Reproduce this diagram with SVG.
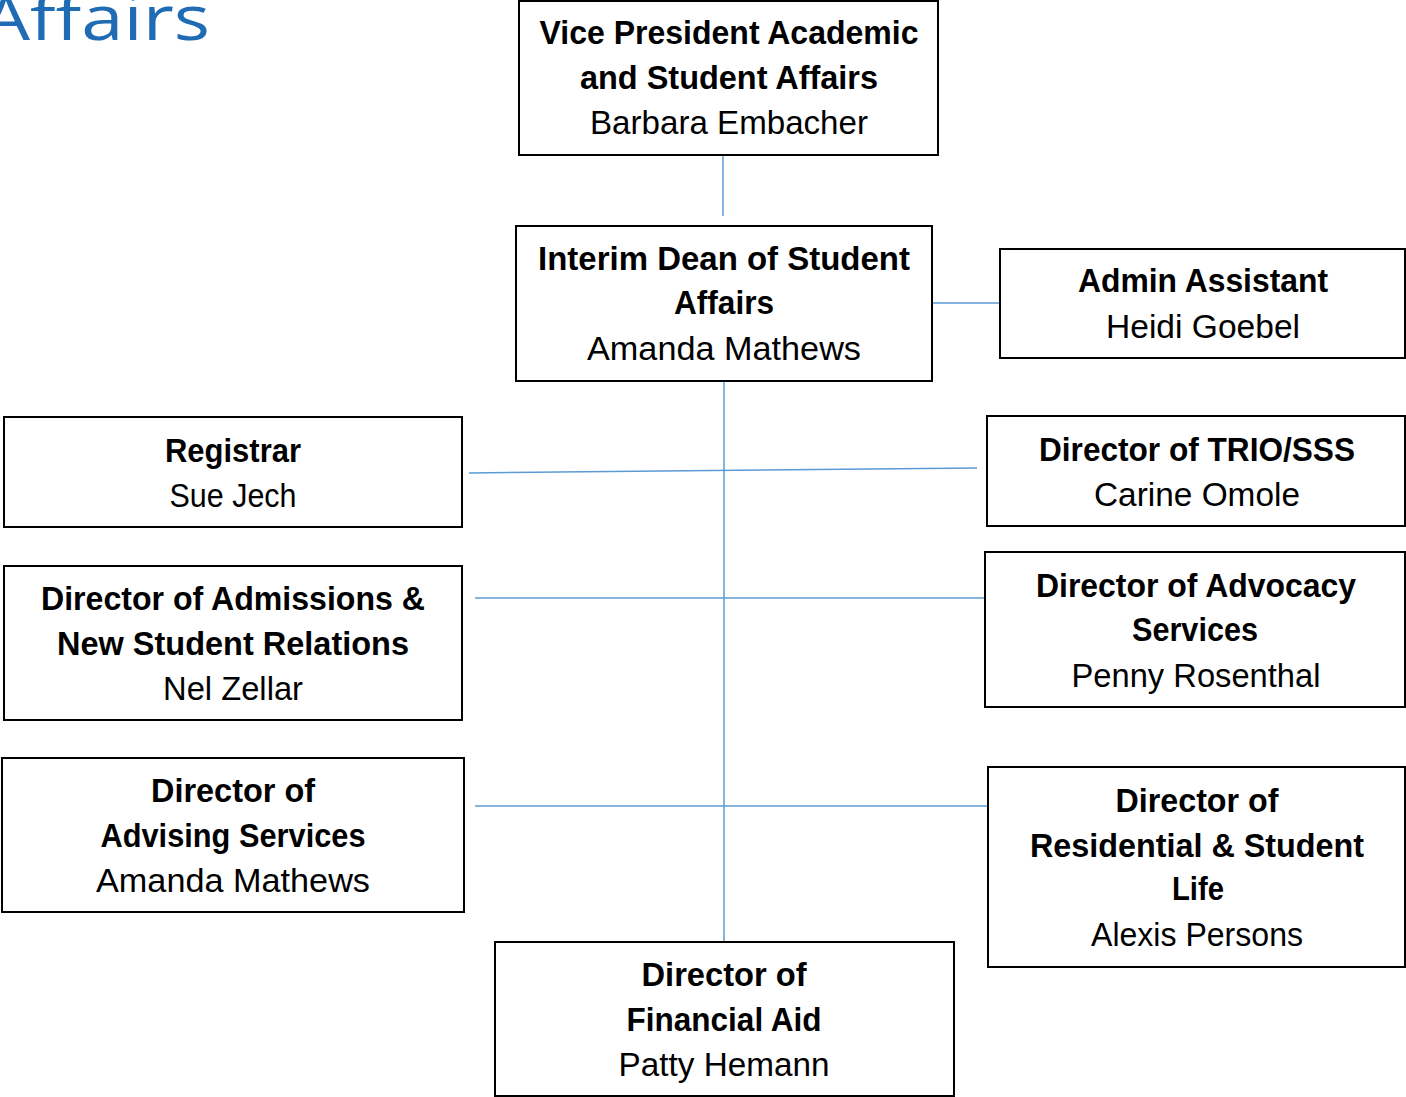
<svg xmlns="http://www.w3.org/2000/svg" width="1406" height="1097" viewBox="0 0 1406 1097">
<style>
.box{fill:#fff;stroke:#000;stroke-width:2}
.b{font-family:"Liberation Sans",Arial,sans-serif;font-size:33px;font-weight:bold;fill:#000;text-anchor:middle}
.r{font-family:"Liberation Sans",Arial,sans-serif;font-size:33px;fill:#000;text-anchor:middle}
.c{stroke:#5b9bd5;stroke-width:1.5;fill:none}
.title{font-family:"Open Sans","Liberation Sans",sans-serif;font-size:62px;fill:#1f6cb5}
</style>
<rect width="1406" height="1097" fill="#fff"/>
<text class="title" x="-18" y="40" textLength="228" lengthAdjust="spacingAndGlyphs">Affairs</text>
<g id="connectors">
<line class="c" x1="723" y1="155" x2="723" y2="216"/>
<line class="c" x1="932" y1="303" x2="1000" y2="303"/>
<line class="c" x1="724" y1="381" x2="724" y2="942"/>
<line class="c" x1="469" y1="473" x2="977" y2="468"/>
<line class="c" x1="475" y1="598" x2="985" y2="598"/>
<line class="c" x1="475" y1="806" x2="987" y2="806"/>
</g>
<g id="vp">
<rect class="box" x="519" y="1" width="419" height="154"/>
<text class="b" x="729" y="44" textLength="379" lengthAdjust="spacingAndGlyphs">Vice President Academic</text>
<text class="b" x="729" y="89" textLength="298" lengthAdjust="spacingAndGlyphs">and Student Affairs</text>
<text class="r" x="729" y="134" textLength="278" lengthAdjust="spacingAndGlyphs">Barbara Embacher</text>
</g>
<g id="dean">
<rect class="box" x="516" y="226" width="416" height="155"/>
<text class="b" x="724" y="270" textLength="372" lengthAdjust="spacingAndGlyphs">Interim Dean of Student</text>
<text class="b" x="724" y="314" textLength="100" lengthAdjust="spacingAndGlyphs">Affairs</text>
<text class="r" x="724" y="360" textLength="274" lengthAdjust="spacingAndGlyphs">Amanda Mathews</text>
</g>
<g id="admin">
<rect class="box" x="1000" y="249" width="405" height="109"/>
<text class="b" x="1203" y="292" textLength="250" lengthAdjust="spacingAndGlyphs">Admin Assistant</text>
<text class="r" x="1203" y="338" textLength="194" lengthAdjust="spacingAndGlyphs">Heidi Goebel</text>
</g>
<g id="registrar">
<rect class="box" x="4" y="417" width="458" height="110"/>
<text class="b" x="233" y="462" textLength="136" lengthAdjust="spacingAndGlyphs">Registrar</text>
<text class="r" x="233" y="507" textLength="127" lengthAdjust="spacingAndGlyphs">Sue Jech</text>
</g>
<g id="trio">
<rect class="box" x="987" y="416" width="418" height="110"/>
<text class="b" x="1197" y="461" textLength="316" lengthAdjust="spacingAndGlyphs">Director of TRIO/SSS</text>
<text class="r" x="1197" y="506" textLength="206" lengthAdjust="spacingAndGlyphs">Carine Omole</text>
</g>
<g id="admissions">
<rect class="box" x="4" y="566" width="458" height="154"/>
<text class="b" x="233" y="610" textLength="384" lengthAdjust="spacingAndGlyphs">Director of Admissions &amp;</text>
<text class="b" x="233" y="655" textLength="352" lengthAdjust="spacingAndGlyphs">New Student Relations</text>
<text class="r" x="233" y="700" textLength="140" lengthAdjust="spacingAndGlyphs">Nel Zellar</text>
</g>
<g id="advocacy">
<rect class="box" x="985" y="552" width="420" height="155"/>
<text class="b" x="1196" y="597" textLength="320" lengthAdjust="spacingAndGlyphs">Director of Advocacy</text>
<text class="b" x="1195" y="641" textLength="126" lengthAdjust="spacingAndGlyphs">Services</text>
<text class="r" x="1196" y="687" textLength="249" lengthAdjust="spacingAndGlyphs">Penny Rosenthal</text>
</g>
<g id="advising">
<rect class="box" x="2" y="758" width="462" height="154"/>
<text class="b" x="233" y="802" textLength="164" lengthAdjust="spacingAndGlyphs">Director of</text>
<text class="b" x="233" y="847" textLength="265" lengthAdjust="spacingAndGlyphs">Advising Services</text>
<text class="r" x="233" y="892" textLength="274" lengthAdjust="spacingAndGlyphs">Amanda Mathews</text>
</g>
<g id="residential">
<rect class="box" x="988" y="767" width="417" height="200"/>
<text class="b" x="1197" y="812" textLength="163" lengthAdjust="spacingAndGlyphs">Director of</text>
<text class="b" x="1197" y="857" textLength="334" lengthAdjust="spacingAndGlyphs">Residential &amp; Student</text>
<text class="b" x="1198" y="900" textLength="52" lengthAdjust="spacingAndGlyphs">Life</text>
<text class="r" x="1197" y="946" textLength="212" lengthAdjust="spacingAndGlyphs">Alexis Persons</text>
</g>
<g id="financial">
<rect class="box" x="495" y="942" width="459" height="154"/>
<text class="b" x="724" y="986" textLength="165" lengthAdjust="spacingAndGlyphs">Director of</text>
<text class="b" x="724" y="1031" textLength="195" lengthAdjust="spacingAndGlyphs">Financial Aid</text>
<text class="r" x="724" y="1076" textLength="211" lengthAdjust="spacingAndGlyphs">Patty Hemann</text>
</g>
</svg>
